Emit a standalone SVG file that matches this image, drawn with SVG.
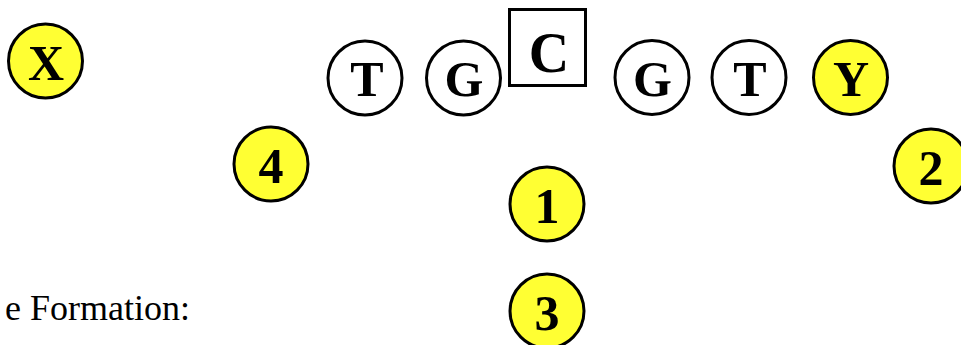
<svg xmlns="http://www.w3.org/2000/svg" width="961" height="345" viewBox="0 0 961 345">
<style>
.p{stroke:#000;stroke-width:3;}
.y{fill:#ffff33;}
.w{fill:#fff;}
.l{font-family:"Liberation Serif","Times New Roman",serif;font-weight:bold;font-size:50px;text-anchor:middle;fill:#000;}
.cap{font-family:"Liberation Serif","Times New Roman",serif;font-size:36px;fill:#000;}
</style>
<rect width="961" height="345" fill="#fff"/>
<g id="connectors"></g>
<g id="nodeX"><circle class="p y" cx="45.5" cy="61" r="37"/><text class="l" x="46" y="80">X</text></g>
<g id="node4"><circle class="p y" cx="271" cy="164" r="37"/><text class="l" x="271" y="183">4</text></g>
<g id="nodeT1"><circle class="p w" cx="365" cy="78" r="37"/><text class="l" x="367" y="96">T</text></g>
<g id="nodeG1"><circle class="p w" cx="463.5" cy="78" r="37"/><text class="l" x="464" y="96">G</text></g>
<g id="nodeC"><rect class="p w" x="509.5" y="9.5" width="76" height="76"/><text class="l" x="549" y="72" style="font-size:56px">C</text></g>
<g id="nodeG2"><circle class="p w" cx="652" cy="77.5" r="37"/><text class="l" x="652.5" y="96">G</text></g>
<g id="nodeT2"><circle class="p w" cx="749" cy="77.5" r="37"/><text class="l" x="750" y="96">T</text></g>
<g id="nodeY"><circle class="p y" cx="850.5" cy="77.5" r="37"/><text class="l" x="851" y="96">Y</text></g>
<g id="node2"><circle class="p y" cx="931" cy="166" r="37"/><text class="l" x="931" y="185">2</text></g>
<g id="node1"><circle class="p y" cx="547" cy="204" r="37"/><text class="l" x="547" y="223">1</text></g>
<g id="node3"><circle class="p y" cx="547" cy="311" r="37"/><text class="l" x="547" y="330">3</text></g>
<text class="cap" x="5" y="320">e Formation:</text>
</svg>
